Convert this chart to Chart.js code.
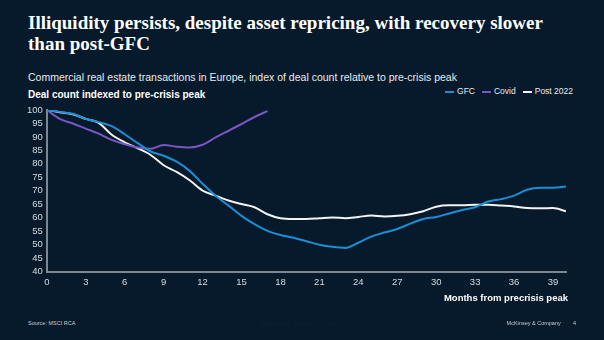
<!DOCTYPE html>
<html>
<head>
<meta charset="utf-8">
<script src="https://cdn.jsdelivr.net/npm/chart.js@4"></script>
<style>
  html, body { margin: 0; padding: 0; }
  body { width: 604px; height: 340px; background: #061a2b; position: relative; overflow: hidden;
         font-family: "Liberation Sans", Arial, sans-serif; color: #fff; }
  .title { position: absolute; left: 28px; top: 12px; width: 530px; font-family: "Liberation Serif", serif;
           font-weight: bold; font-size: 19px; line-height: 21px; }
  .sub { position: absolute; left: 28px; top: 71px; font-size: 10.5px; color: #e8ecef; }
  .legend { position: absolute; right: 31px; top: 86px; font-size: 8.5px; color: #e8ecef; display: flex; gap: 7px; }
  .legend span::before { content: ""; display: inline-block; width: 9px; height: 2px; margin-right: 3px; vertical-align: middle; background: var(--c); }
  .ytitle { position: absolute; left: 28px; top: 89px; font-size: 10px; font-weight: bold; }
  .xtitle { position: absolute; right: 36px; top: 292px; font-size: 9.5px; font-weight: bold; }
  .foot { position: absolute; top: 320px; font-size: 5.5px; color: #c8ced4; }
  #wrap { position: absolute; left: 0; top: 100px; width: 604px; height: 193px; }
</style>
</head>
<body>
<div class="title">Illiquidity persists, despite asset repricing, with recovery slower than post-GFC</div>
<div class="sub">Commercial real estate transactions in Europe, index of deal count relative to pre-crisis peak</div>
<div class="legend">
  <span style="--c:#1b8fd6">GFC</span>
  <span style="--c:#7b55c4">Covid</span>
  <span style="--c:#f2f2f2">Post 2022</span>
</div>
<div class="ytitle">Deal count indexed to pre-crisis peak</div>
<div id="wrap"><canvas id="chart"></canvas></div>
<div class="xtitle">Months from precrisis peak</div>
<div class="foot" style="left:28px">Source: MSCI RCA</div>
<div class="foot" style="left:262px;color:#0e2233">McKinsey &amp; Company ©2024</div>
<div class="foot" style="right:28px">McKinsey &amp; Company&nbsp;&nbsp;&nbsp;&nbsp;&nbsp;&nbsp;&nbsp;&nbsp;4</div>
<script>
// months from pre-crisis peak
const months = [0,1,2,3,4,5,6,7,8,9,10,11,12,13,14,15,16,17,18,19,20,
                21,22,23,24,25,26,27,28,29,30,31,32,33,34,35,36,37,38,39,40];

const gfc = [100,99.3,98.6,96.7,95.5,94,91,87.7,84.6,83,80.8,77.4,72.6,68.2,64.5,60.7,57.6,55.1,53.6,52.6,51.3,
             50,49.2,48.8,50.7,53,54.5,55.8,57.8,59.5,60.3,61.6,62.9,63.9,66,66.9,68.2,70.4,71.1,71.1,71.6];
const covid = [100,96.7,95,93.1,91.2,88.9,87.3,86.1,85.6,87,86.4,86.1,87.1,89.8,92.3,94.8,97.4,99.6];
const post2022 = [100,99.2,98.4,96.7,95.2,90.8,88,85.8,83.3,79.5,77,73.9,70.1,68.2,66.4,65.1,63.9,61.3,59.8,59.5,59.5,
                  59.8,60.1,59.8,60.3,60.8,60.5,60.7,61.3,62.4,64.1,64.6,64.6,64.8,64.8,64.5,64.2,63.6,63.5,63.6,62.4];

const yTicks = [40,45,50,55,60,65,70,75,80,85,90,95,100];

function pts(arr) {
  return arr.map((v, i) => ({ x: months[i], y: v }));
}

const axisColor = '#7d8791';
const tickColor = '#d6dbe0';

new Chart(document.getElementById('chart'), {
  type: 'line',
  data: {
    datasets: [
      { label: 'GFC', data: pts(gfc), borderColor: '#1b8fd6' },
      { label: 'Covid', data: pts(covid), borderColor: '#7b55c4' },
      { label: 'Post 2022', data: pts(post2022), borderColor: '#f2f2f2' }
    ]
  },
  options: {
    responsive: true,
    maintainAspectRatio: false,
    animation: false,
    layout: { padding: { left: 23, right: 38, top: 10, bottom: 0 } },
    elements: {
      line: { borderWidth: 2, tension: 0.4, cubicInterpolationMode: 'monotone' },
      point: { radius: 0 }
    },
    plugins: { legend: { display: false }, tooltip: { enabled: false } },
    scales: {
      x: {
        type: 'linear', min: 0, max: 40,
        afterBuildTicks: axis => { axis.ticks = months.filter(m => m % 3 === 0).map(m => ({ value: m })); },
        grid: { display: false, drawTicks: false },
        border: { color: axisColor, width: 2 },
        ticks: { color: tickColor, font: { family: 'Liberation Sans', size: 9.5 }, padding: 5, maxRotation: 0, autoSkip: false }
      },
      y: {
        min: 40, max: 100,
        afterBuildTicks: axis => { axis.ticks = yTicks.map(v => ({ value: v })); },
        grid: { display: false, drawTicks: false },
        border: { color: axisColor, width: 2 },
        ticks: { color: tickColor, font: { family: 'Liberation Sans', size: 9.5 }, padding: 4, autoSkip: false }
      }
    }
  }
});
</script>
</body>
</html>
